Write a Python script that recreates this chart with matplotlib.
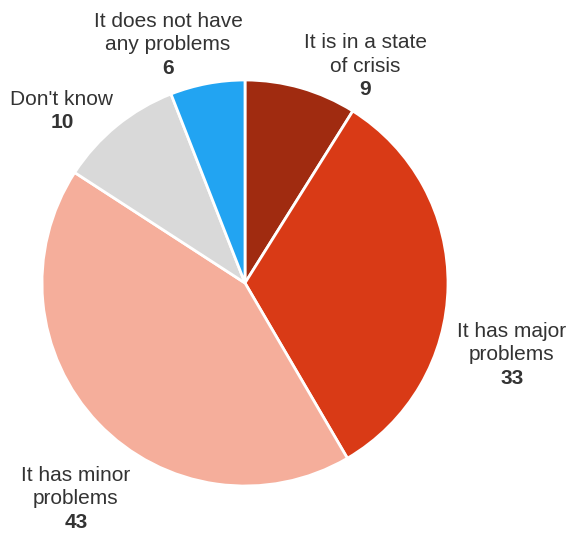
import matplotlib
matplotlib.use("Agg")
import matplotlib.pyplot as plt

# slices, clockwise from 12 o'clock
labels = ["It is in a state\nof crisis", "It has major\nproblems", "It has minor\nproblems",
          "Don't know", "It does not have\nany problems"]
values = [9, 33, 43, 10, 6]
colors = ["#A02B10", "#D93A16", "#F5AE9B", "#D9D9D9", "#22A4F2"]

# label anchor: (x centre, baseline of first line) in pixels from top-left
label_pos = [(365, 48), (512, 337), (76, 481), (62, 105), (168, 27)]
line_step = 23.5

W, H = 582, 533
plt.rcParams["font.family"] = ["Liberation Sans", "DejaVu Sans"]
fig = plt.figure(figsize=(W / 100, H / 100), dpi=100)
ax = fig.add_axes([0, 0, 1, 1])

ax.pie(values, colors=colors, startangle=90, counterclock=False,
       center=(245, H - 283), radius=203,
       wedgeprops=dict(edgecolor="white", linewidth=2))
ax.set_xlim(0, W)
ax.set_ylim(0, H)
ax.set_aspect("equal")
ax.axis("off")

for lab, v, (x, y) in zip(labels, values, label_pos):
    lines = lab.split("\n")
    for i, ln in enumerate(lines):
        ax.text(x, H - (y + i * line_step), ln, ha="center", va="baseline",
                fontsize=15, color="#333333")
    ax.text(x, H - (y + len(lines) * line_step), str(v), ha="center", va="baseline",
            fontsize=15, color="#333333", fontweight="bold")

fig.savefig("out.png", dpi=100)
